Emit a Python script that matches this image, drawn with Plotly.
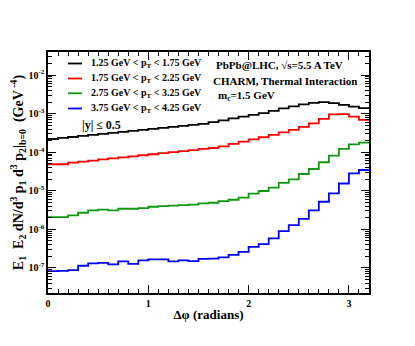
import numpy as np
import plotly.graph_objects as go

# Bin edges of the delta-phi histogram (radians), 32 bins of 0.1
dphi_edges = [round(0.1 * i, 1) for i in range(33)]

# Series values per bin (GeV^-4)
pt_125_175 = [2.21e-4, 2.35e-4, 2.49e-4, 2.65e-4, 2.81e-4, 2.99e-4, 3.17e-4, 3.37e-4,
              3.57e-4, 3.79e-4, 4.03e-4, 4.28e-4, 4.54e-4, 4.82e-4, 5.12e-4, 5.43e-4,
              6.01e-4, 6.70e-4, 7.55e-4, 8.36e-4, 9.31e-4, 1.03e-3, 1.18e-3, 1.37e-3,
              1.55e-3, 1.75e-3, 1.91e-3, 1.99e-3, 1.88e-3, 1.69e-3, 1.53e-3, 1.39e-3]
pt_175_225 = [4.88e-5, 4.88e-5, 5.37e-5, 5.73e-5, 6.09e-5, 6.50e-5, 6.90e-5, 7.37e-5,
              7.83e-5, 8.36e-5, 8.87e-5, 9.48e-5, 1.01e-4, 1.07e-4, 1.14e-4, 1.22e-4,
              1.29e-4, 1.42e-4, 1.64e-4, 1.88e-4, 2.15e-4, 2.45e-4, 2.81e-4, 3.27e-4,
              3.79e-4, 4.54e-4, 5.60e-4, 7.33e-4, 9.60e-4, 9.71e-4, 8.41e-4, 6.90e-4]
pt_275_325 = [2.08e-6, 2.08e-6, 2.31e-6, 2.70e-6, 3.12e-6, 3.27e-6, 3.12e-6, 3.43e-6,
              3.43e-6, 3.57e-6, 3.86e-6, 4.03e-6, 4.15e-6, 4.28e-6, 4.41e-6, 4.73e-6,
              4.91e-6, 5.43e-6, 5.87e-6, 6.62e-6, 8.41e-6, 9.89e-6, 1.21e-5, 1.60e-5,
              1.99e-5, 2.73e-5, 3.68e-5, 5.50e-5, 8.16e-5, 1.22e-4, 1.61e-4, 1.77e-4]
pt_375_425 = [8.26e-8, 8.41e-8, 8.77e-8, 1.14e-7, 1.31e-7, 1.36e-7, 1.23e-7, 1.48e-7,
              1.28e-7, 1.57e-7, 1.66e-7, 1.66e-7, 1.48e-7, 1.57e-7, 1.50e-7, 1.72e-7,
              1.75e-7, 1.87e-7, 2.19e-7, 2.62e-7, 3.53e-7, 4.15e-7, 5.83e-7, 9.04e-7,
              1.29e-6, 1.88e-6, 3.12e-6, 5.21e-6, 8.61e-6, 1.55e-5, 2.85e-5, 3.47e-5]

series_labels = ["1.25 GeV < p<sub>T</sub> < 1.75 GeV",
                 "1.75 GeV < p<sub>T</sub> < 2.25 GeV",
                 "2.75 GeV < p<sub>T</sub> < 3.25 GeV",
                 "3.75 GeV < p<sub>T</sub> < 4.25 GeV"]
series_values = [pt_125_175, pt_175_225, pt_275_325, pt_375_425]
series_colors = ["#000000", "#ff0000", "#109910", "#0000ff"]

y_tick_vals = [1e-7, 1e-6, 1e-5, 1e-4, 1e-3, 1e-2]
y_tick_text = ["10<sup>-7</sup>", "10<sup>-6</sup>", "10<sup>-5</sup>",
               "10<sup>-4</sup>", "10<sup>-3</sup>", "10<sup>-2</sup>"]
x_tick_vals = [0, 1, 2, 3]

FONT = "Liberation Serif"
OFF = 8                      # default page body margin
W, H = 415 - OFF, 346 - OFF  # figure size so page fits the window
# plot-area edges in window pixels
L, R, T, B = 48, 369, 52, 293


def px(xp):
    return (xp - L) / (R - L)


def py(yp):
    return (B - yp) / (B - T)


fig = go.Figure()
for vals, col, lab in zip(series_values, series_colors, series_labels):
    fig.add_trace(go.Scatter(
        x=dphi_edges, y=vals + [vals[-1]], mode="lines",
        line=dict(color=col, width=1.8, shape="hv"),
        name=lab, showlegend=False, hoverinfo="skip"))

# Manual legend (ROOT style)
leg_rows = [63.5, 78.5, 93.3, 108.5]
for yrow, col, lab in zip(leg_rows, series_colors, series_labels):
    fig.add_shape(type="line", xref="paper", yref="paper",
                  x0=px(68), x1=px(82), y0=py(yrow), y1=py(yrow),
                  line=dict(color=col, width=1.8))
    fig.add_annotation(xref="paper", yref="paper", x=px(89), y=py(yrow),
                       text="<b>" + lab + "</b>", showarrow=False,
                       xanchor="left", yanchor="middle",
                       font=dict(family=FONT, size=10, color="black"))

fig.add_annotation(xref="paper", yref="paper", x=px(80), y=py(125),
                   text="<b>|y| ≤ 0.5</b>", showarrow=False,
                   xanchor="left", yanchor="middle",
                   font=dict(family=FONT, size=12, color="black"))

for txt, xl, yc in [("PbPb@LHC, √s=5.5 A TeV", 214, 65),
                    ("CHARM, Thermal Interaction", 211, 81),
                    ("m<sub>c</sub>=1.5 GeV", 216, 96)]:
    fig.add_annotation(xref="paper", yref="paper", x=px(xl), y=py(yc),
                       text="<b>" + txt + "</b>", showarrow=False,
                       xanchor="left", yanchor="middle",
                       font=dict(family=FONT, size=11, color="black"))

fig.update_layout(
    width=W, height=H,
    margin=dict(l=L - OFF, r=W + OFF - R, t=T - OFF, b=H + OFF - B, pad=0),
    paper_bgcolor="white", plot_bgcolor="white",
    font=dict(family=FONT, size=10, color="black"),
    showlegend=False,
)

fig.update_xaxes(
    range=[0, 3.2], tickmode="array", tickvals=x_tick_vals,
    ticktext=["<b>%d</b>" % v for v in x_tick_vals],
    ticks="inside", ticklen=8, tickwidth=1, tickcolor="black",
    minor=dict(dtick=0.1, tick0=0, ticks="inside", ticklen=4, tickcolor="black", showgrid=False),
    showline=True, linecolor="black", linewidth=1.5, mirror="allticks",
    showgrid=False, zeroline=False, automargin=False,
    tickfont=dict(family=FONT, size=10),
    title=dict(text="<b>Δφ (radians)</b>", font=dict(family=FONT, size=13), standoff=2),
)

minor_vals = [k * 10.0 ** n for n in range(-8, -1) for k in range(2, 10)]
fig.update_yaxes(
    type="log", range=[-7.65, -1.4], tickmode="array",
    tickvals=y_tick_vals, ticktext=["<b>" + t + "</b>" for t in y_tick_text],
    ticks="inside", ticklen=8, tickwidth=1, tickcolor="black",
    minor=dict(tickmode="array", tickvals=minor_vals, ticks="inside", ticklen=4,
               tickcolor="black", showgrid=False),
    showline=True, linecolor="black", linewidth=1.5, mirror="allticks",
    showgrid=False, zeroline=False, automargin=False,
    tickfont=dict(family=FONT, size=10),
    title=dict(text="<b>E<sub>1</sub>  E<sub>2</sub> dN/d<sup>3</sup> p<sub>1</sub> d<sup>3</sup> p<sub>2</sub>|<sub>b=0</sub>  (GeV<sup> -4</sup>)</b>",
               font=dict(family=FONT, size=14), standoff=2),
)

fig.write_html("out.html")
